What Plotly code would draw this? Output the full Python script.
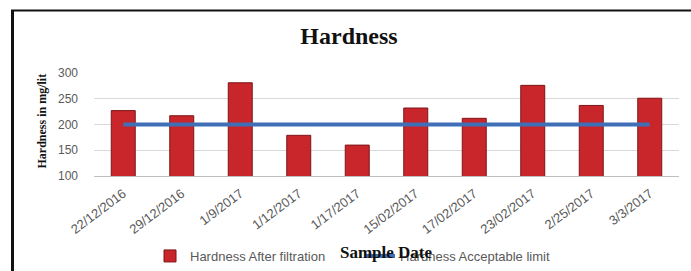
import plotly.graph_objects as go

dates = ["22/12/2016", "29/12/2016", "1/9/2017", "1/12/2017", "1/17/2017",
         "15/02/2017", "17/02/2017", "23/02/2017", "2/25/2017", "3/3/2017"]
hardness_after = [227, 217, 281, 179, 160, 232, 212, 276, 237, 251]
acceptable_limit = [200] * len(dates)

W, H = 691, 271
L, R, T, B = 94, 12, 73, 95
PW = W - L - R
PH = H - T - B

def px(p):
    return (p - L) / PW

def py(q):
    return (H - B - q) / PH

fig = go.Figure()
fig.add_trace(go.Bar(
    x=dates, y=hardness_after, name="Hardness After filtration",
    marker=dict(color="#c8262a", line=dict(color="#7d1518", width=1)),
))
fig.add_trace(go.Scatter(
    x=dates, y=acceptable_limit, name="Hardness Acceptable limit",
    mode="lines", line=dict(color="#3f6fb6", width=4),
))

fig.update_layout(
    width=W, height=H,
    margin=dict(l=L, r=R, t=T, b=B, autoexpand=False),
    paper_bgcolor="white", plot_bgcolor="white",
    bargap=0.59,
    title=dict(text="<b>Hardness</b>", x=349 / W, xanchor="center",
               y=1 - 36 / H, yanchor="middle",
               font=dict(family="Liberation Serif", size=24, color="#111")),
    showlegend=True,
    legend=dict(orientation="h", xref="container", x=150 / W, xanchor="left",
                yref="container", y=1 - 256 / H, yanchor="middle",
                font=dict(family="Liberation Sans", size=13, color="#595959"),
                bgcolor="rgba(0,0,0,0)", itemwidth=30, entrywidth=165,
                entrywidthmode="pixels"),
    xaxis=dict(tickangle=-37, tickfont=dict(family="Liberation Sans", size=13, color="#595959"),
               showgrid=False, showline=True, linecolor="#bfbfbf", linewidth=1,
               ticks="", ticklabelstandoff=4, automargin=False),
    yaxis=dict(range=[100, 300], dtick=50, tickfont=dict(family="Liberation Sans", size=12, color="#595959"),
               showgrid=True, gridcolor="#d9d9d9", gridwidth=1, zeroline=False,
               ticklabelstandoff=15, showline=False, automargin=False),
    annotations=[
        dict(text="<b>Hardness in mg/lit</b>", xref="paper", yref="paper",
             x=px(41), y=py(121.5), xanchor="center", yanchor="middle",
             textangle=-90, showarrow=False,
             font=dict(family="Liberation Serif", size=12, color="#111")),
        dict(text="<b>Sample Date</b>", xref="paper", yref="paper",
             x=px(386), y=py(252), xanchor="center", yanchor="middle",
             showarrow=False,
             font=dict(family="Liberation Serif", size=17, color="#111")),
    ],
    shapes=[
        dict(type="line", xref="paper", yref="paper", x0=px(11), x1=px(W), y0=py(10.5), y1=py(10.5),
             line=dict(color="#111", width=2)),
        dict(type="line", xref="paper", yref="paper", x0=px(12.5), x1=px(12.5), y0=py(10), y1=py(H),
             line=dict(color="#111", width=3)),
    ],
)

fig.write_html("out.html", config={"displayModeBar": False},
               post_script="document.body.style.margin='0';document.body.style.overflow='hidden';")
